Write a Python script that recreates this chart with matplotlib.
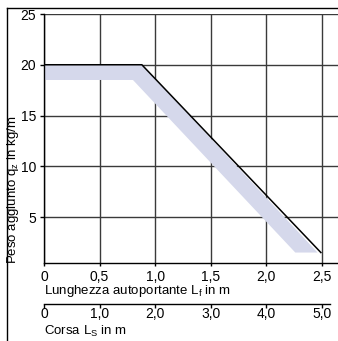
import matplotlib
matplotlib.use("Agg")
import matplotlib.pyplot as plt
from matplotlib.lines import Line2D

plt.rcParams['font.family'] = ['Liberation Sans', 'DejaVu Sans']
plt.rcParams['mathtext.fontset'] = 'custom'
plt.rcParams['mathtext.rm'] = 'Liberation Sans'
plt.rcParams['mathtext.it'] = 'Liberation Sans'

# data
line_x = [0, 0.88, 2.49]
line_y = [20, 20, 1.5]
band_top_x = [0, 0.88, 2.46]
band_top_y = [20, 20, 1.5]
band_bot_x = [0, 0.80, 2.26]
band_bot_y = [18.5, 18.5, 1.5]

lf_ticks = [0, 0.5, 1.0, 1.5, 2.0, 2.5]
lf_labels = ['0', '0,5', '1,0', '1,5', '2,0', '2,5']
ls_ticks = [0, 1.0, 2.0, 3.0, 4.0, 5.0]
ls_labels = ['0', '1,0', '2,0', '3,0', '4,0', '5,0']
y_ticks = [5, 10, 15, 20, 25]

W, H = 338, 341
fig = plt.figure(figsize=(W / 100, H / 100), dpi=100)

ax = fig.add_axes([44 / W, 1 - 263 / H, (W - 44) / W, (263 - 14) / H])
ax.set_xlim(0, 2.644)
ax.set_ylim(0.47, 25)

poly_x = band_top_x + band_bot_x[::-1]
poly_y = band_top_y + band_bot_y[::-1]
ax.fill(poly_x, poly_y, color='#d5d8eb', lw=0, zorder=2)
ax.plot(line_x, line_y, color='black', lw=1.1, zorder=3)

ax.set_xticks(lf_ticks)
ax.set_xticklabels(lf_labels)
ax.set_yticks(y_ticks)
ax.grid(True, color='#3a3a3a', lw=1.0, zorder=1)
ax.set_axisbelow(True)
for s in ['top', 'right']:
    ax.spines[s].set_visible(False)
for s in ['left', 'bottom']:
    ax.spines[s].set_linewidth(1.0)
ax.tick_params(axis='x', direction='out', length=2.2, width=1.0, labelsize=10, pad=2.9)
ax.tick_params(axis='y', direction='out', length=3, width=1.0, labelsize=10, pad=2.5)

fig.text(44 / W, 1 - 291 / H, 'Lunghezza autoportante L$_\\mathrm{f}$ in m',
         ha='left', va='center', fontsize=9.5)

# second axis for the stroke
ax2 = fig.add_axes([44 / W, 1 - 304 / H, (W - 44) / W, 0.001])
ax2.set_xlim(0, 5.29)
ax2.set_yticks([])
for s in ['top', 'right', 'left']:
    ax2.spines[s].set_visible(False)
ax2.spines['bottom'].set_bounds(0, 5.14)
ax2.spines['bottom'].set_linewidth(1.0)
ax2.patch.set_visible(False)
ax2.set_xticks(ls_ticks)
ax2.set_xticklabels(ls_labels)
ax2.tick_params(direction='out', length=3, width=1.0, labelsize=10, pad=-0.5)

fig.text(44 / W, 1 - 331 / H, 'Corsa L$_\\mathrm{S}$ in m',
         ha='left', va='center', fontsize=9.5)

fig.text(13 / W, 1 - 264 / H, 'Peso aggiunto q$_\\mathrm{z}$ in kg/m',
         rotation=90, ha='center', va='bottom', fontsize=9.5)

# outer frame
fig.add_artist(Line2D([7 / W, 7 / W], [0, 1 - 8 / H], color='black', lw=1.0))
fig.add_artist(Line2D([7 / W, 1], [1 - 8 / H, 1 - 8 / H], color='black', lw=1.0))

fig.savefig('out.png', dpi=100)
